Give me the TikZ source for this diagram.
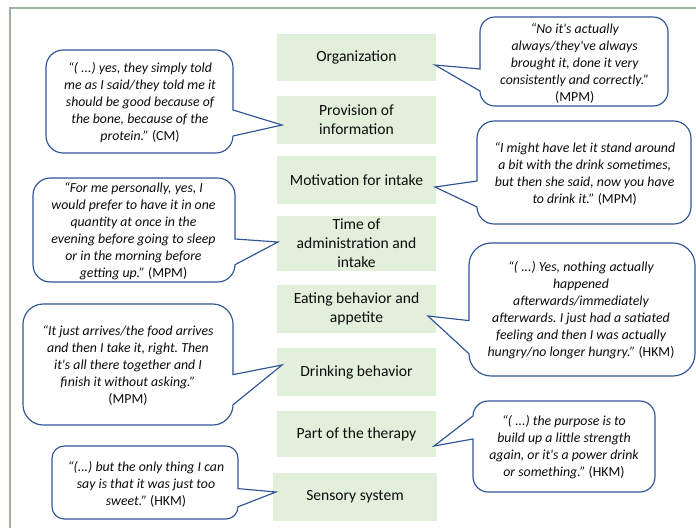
\documentclass[tikz,border=0pt]{standalone}
\usepackage{fontspec}
\setmainfont{Carlito}
\newfontfamily\calf{Carlito}
\frenchspacing
\definecolor{boxgreen}{RGB}{226,239,218}
\definecolor{bubblue}{RGB}{47,85,151}
\definecolor{framegr}{RGB}{160,178,160}
\definecolor{txt}{RGB}{12,12,12}
% tail on the right side of the bubble
\newcommand{\bubRightTail}[8]{%
\pgfmathsetmacro\bA{#1+#5}\pgfmathsetmacro\bB{#3-#5}%
\pgfmathsetmacro\bC{#2+#5}\pgfmathsetmacro\bD{#4-#5}%
\pgfmathsetmacro\bAk{#1+0.448*#5}\pgfmathsetmacro\bBk{#3-0.448*#5}%
\pgfmathsetmacro\bCk{#2+0.448*#5}\pgfmathsetmacro\bDk{#4-0.448*#5}%
\draw[bub] (\bA,#2) -- (\bB,#2) .. controls (\bBk,#2) and (#3,\bCk) .. (#3,\bC)
 -- (#3,#6) -- #8 -- (#3,#7) -- (#3,\bD) .. controls (#3,\bDk) and (\bBk,#4) .. (\bB,#4)
 -- (\bA,#4) .. controls (\bAk,#4) and (#1,\bDk) .. (#1,\bD)
 -- (#1,\bC) .. controls (#1,\bCk) and (\bAk,#2) .. (\bA,#2) -- cycle;}
% tail on the left side of the bubble
\newcommand{\bubLeftTail}[8]{%
\pgfmathsetmacro\bA{#1+#5}\pgfmathsetmacro\bB{#3-#5}%
\pgfmathsetmacro\bC{#2+#5}\pgfmathsetmacro\bD{#4-#5}%
\pgfmathsetmacro\bAk{#1+0.448*#5}\pgfmathsetmacro\bBk{#3-0.448*#5}%
\pgfmathsetmacro\bCk{#2+0.448*#5}\pgfmathsetmacro\bDk{#4-0.448*#5}%
\draw[bub] (\bA,#2) -- (\bB,#2) .. controls (\bBk,#2) and (#3,\bCk) .. (#3,\bC)
 -- (#3,\bD) .. controls (#3,\bDk) and (\bBk,#4) .. (\bB,#4)
 -- (\bA,#4) .. controls (\bAk,#4) and (#1,\bDk) .. (#1,\bD)
 -- (#1,#7) -- #8 -- (#1,#6)
 -- (#1,\bC) .. controls (#1,\bCk) and (\bAk,#2) .. (\bA,#2) -- cycle;}
\tikzset{
  bub/.style={draw=bubblue, line width=1.15pt, fill=white, line join=miter},
  catbox/.style={fill=boxgreen, draw=none, minimum width=159pt, minimum height=48pt,
    inner sep=0pt, align=center, text=txt, font=\calf\fontsize{15.6}{19}\selectfont},
  quote/.style={inner sep=0pt, align=center, text=txt, font=\calf\itshape\fontsize{13.8}{17}\selectfont}
}
\begin{document}
\begin{tikzpicture}[x=1pt,y=-1pt]
\useasboundingbox (0,0) rectangle (696,528);
\draw[framegr, line width=1.6pt] (10,528) -- (10,8) -- (696,8);

% category boxes
\node[catbox, minimum height=47pt] (org)   at (356.5,57.5) {Organization};
\node[catbox] (prov)  at (356.5,120) {Provision of\\information};
\node[catbox] (mot)   at (356.5,180) {Motivation for intake};
\node[catbox, minimum height=55pt] (time)  at (356.5,243.5) {Time of\\administration and\\intake};
\node[catbox] (eat)   at (356.5,309) {Eating behavior and\\appetite};
\node[catbox] (drink) at (356.5,372) {Drinking behavior};
\node[catbox, minimum height=46pt] (part)  at (356.5,434) {Part of the therapy};
\node[catbox, minimum width=164pt] (sens)  at (355,497) {Sensory system};

% speech bubbles
\coordinate (t1) at (435,65);
\coordinate (t2) at (282,125);
\coordinate (t3) at (435,187);
\coordinate (t4) at (278,242);
\coordinate (t5) at (428,316);
\coordinate (t6) at (282,365);
\coordinate (t7) at (434,446);
\coordinate (t8) at (276,492);
\bubLeftTail{480}{17}{668}{106}{14.8}{69}{91}{(t1)}
\bubRightTail{46}{50}{233}{153}{17.2}{110}{136}{(t2)}
\bubLeftTail{477}{121}{691}{224}{17.2}{181}{207}{(t3)}
\bubRightTail{33}{178}{235}{282}{17.3}{239}{264.7}{(t4)}
\bubLeftTail{469}{243}{695}{376}{22.2}{320.6}{353.8}{(t5)}
\bubRightTail{23}{304}{233}{425}{20.2}{374.6}{404.8}{(t6)}
\bubLeftTail{473}{401}{655}{492}{15.2}{416}{439}{(t7)}
\bubRightTail{52}{446}{238}{519}{12.2}{488.6}{506.8}{(t8)}

% quotes
\node[quote] (q1) at (574.7,63) {“No it's actually\\always/they've always\\brought it, done it very\\consistently and correctly.”\\\upshape(MPM)};
\node[quote] (q2) at (140,102.5) {“( ...) yes, they simply told\\me as I said/they told me it\\should be good because of\\the bone, because of the\\protein.” \upshape(CM)};
\node[quote] (q3) at (584.7,173.5) {“I might have let it stand around\\a bit with the drink sometimes,\\but then she said, now you have\\to drink it.” \upshape(MPM)};
\node[quote] (q4) at (133.5,231) {“For me personally, yes, I\\would prefer to have it in one\\quantity at once in the\\evening before going to sleep\\or in the morning before\\getting up.” \upshape(MPM)};
\node[quote] (q5) at (581,310) {“( ...) Yes, nothing actually\\happened\\afterwards/immediately\\afterwards. I just had a satiated\\feeling and then I was actually\\hungry/no longer hungry.” \upshape(HKM)};
\node[quote] (q6) at (128,365.5) {“It just arrives/the food arrives\\and then I take it, right. Then\\it's all there together and I\\finish it without asking.”\\\upshape(MPM)};
\node[quote] (q7) at (564,447) {“( ...) the purpose is to\\build up a little strength\\again, or it's a power drink\\or something.” \upshape(HKM)};
\node[quote] (q8) at (146,484) {“(...) but the only thing I can\\say is that it was just too\\sweet.” \upshape(HKM)};
\end{tikzpicture}
\end{document}
